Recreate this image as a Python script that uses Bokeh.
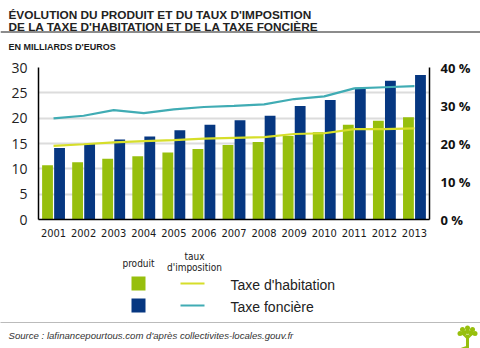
from bokeh.plotting import figure
from bokeh.models import (ColumnDataSource, FactorRange, Range1d, LinearAxis, FixedTicker)
from bokeh.layouts import column, row
from bokeh.transform import dodge
from bokeh.core.properties import value
from bokeh.embed import file_html
from bokeh.resources import INLINE

years = ["2001", "2002", "2003", "2004", "2005", "2006", "2007",
         "2008", "2009", "2010", "2011", "2012", "2013"]
produit_habitation = [10.7, 11.3, 12.0, 12.5, 13.2, 13.9, 14.7, 15.3, 16.5, 17.2, 18.7, 19.5, 20.2]
produit_fonciere = [14.1, 14.9, 15.8, 16.4, 17.6, 18.7, 19.6, 20.5, 22.4, 23.6, 26.0, 27.4, 28.5]
taux_habitation = [19.4, 19.8, 20.3, 20.6, 20.9, 21.3, 21.5, 21.7, 22.5, 22.7, 23.8, 23.8, 24.0]
taux_fonciere = [26.6, 27.3, 28.8, 28.0, 29.0, 29.6, 29.9, 30.3, 31.7, 32.4, 34.5, 34.8, 35.1]
left_ticks = [0, 5, 10, 15, 20, 25, 30]
right_ticks = [0, 10, 20, 30, 40]

GREEN = "#97bf0d"
NAVY = "#063781"
YELLOW = "#d6de2a"
TEAL = "#40acb4"
COND = "'DejaVu Sans Condensed', 'Liberation Sans Narrow', 'Roboto', sans-serif"

def blank(h, y0):
    f = figure(width=480, height=h, x_range=Range1d(0, 480), y_range=Range1d(y0 + h, y0),
               output_backend="svg", toolbar_location=None,
               min_border=0, min_border_left=0, min_border_right=0,
               min_border_top=0, min_border_bottom=0)
    f.axis.visible = False
    f.grid.visible = False
    f.outline_line_color = None
    return f

def htext(f, x, y, t, size, style="normal", font="Liberation Sans", color="#1a1a1a",
          align="left", baseline="alphabetic"):
    f.text(x=[x], y=[y], text=[t], text_font=value(font), text_font_size=size,
           text_font_style=style, text_color=color, text_align=align,
           text_baseline=baseline)

# ---------- header ----------
hd = blank(55, 0)
htext(hd, 8, 14.5, "ÉVOLUTION DU PRODUIT ET DU TAUX D'IMPOSITION", "11.8px", style="bold",
      color="#222222")
htext(hd, 8, 26, "DE LA TAXE D'HABITATION ET DE LA TAXE FONCIÈRE", "11.8px", style="bold",
      color="#222222")
hd.segment(x0=[0], y0=[31.5], x1=[480], y1=[31.5], line_color="#666666", line_width=1.5)
htext(hd, 8, 46, "EN MILLIARDS D'EUROS", "9px", style="bold")

# ---------- main chart ----------
src = ColumnDataSource(dict(year=years, th=produit_habitation, tf=produit_fonciere,
                            tth=taux_habitation, ttf=taux_fonciere))

p = figure(width=480, height=195, x_range=FactorRange(*years, range_padding=0),
           y_range=Range1d(0, 30), output_backend="svg", toolbar_location=None,
           min_border_left=38, min_border_right=51, min_border_top=12,
           min_border_bottom=31)
p.outline_line_color = None
p.extra_y_ranges = {"pct": Range1d(0, 40)}

p.vbar(x=dodge("year", -0.2, range=p.x_range), top="th", width=0.36, source=src,
       fill_color=GREEN, line_color=None)
p.vbar(x=dodge("year", 0.2, range=p.x_range), top="tf", width=0.36, source=src,
       fill_color=NAVY, line_color=None)
p.line(x="year", y="tth", source=src, y_range_name="pct", line_color=YELLOW, line_width=2.2)
p.line(x="year", y="ttf", source=src, y_range_name="pct", line_color=TEAL, line_width=2.2)

p.xgrid.grid_line_color = None
p.ygrid.grid_line_color = "#dcdcdc"
p.ygrid.grid_line_width = 2
p.yaxis.ticker = FixedTicker(ticks=left_ticks)
p.ygrid.ticker = FixedTicker(ticks=left_ticks)

for ax in [p.xaxis[0], p.yaxis[0]]:
    ax.axis_line_color = "black"
    ax.axis_line_width = 1.5
    ax.major_tick_line_color = None
    ax.minor_tick_line_color = None

p.xaxis.major_label_text_font = COND
p.xaxis.major_label_text_font_size = "11px"
p.xaxis.major_label_text_color = "#1a1a1a"
p.xaxis.major_label_standoff = 3

p.yaxis.major_label_text_font = "Open Sans"
p.yaxis.major_label_text_font_size = "14px"
p.yaxis.major_label_text_color = "#222222"
p.yaxis.major_label_standoff = 5

rax = LinearAxis(y_range_name="pct", ticker=FixedTicker(ticks=right_ticks),
                 major_label_overrides={t: f"{t} %" for t in right_ticks})
rax.axis_line_color = "black"
rax.axis_line_width = 1.5
rax.major_tick_line_color = None
rax.minor_tick_line_color = None
rax.major_label_text_font = "Open Sans"
rax.major_label_text_font_style = "bold"
rax.major_label_text_font_size = "13px"
rax.major_label_text_color = "#111111"
rax.major_label_standoff = 5
p.add_layout(rax, "right")

# ---------- footer (legend + source) ----------
ft = blank(98, 250)
htext(ft, 138, 263, "produit", "10px", font=COND, align="center")
htext(ft, 194, 256, "taux", "10px", font=COND, align="center")
htext(ft, 194, 267, "d'imposition", "10px", font=COND, align="center")
ft.quad(left=[131, 131], right=[145, 145], top=[276, 298], bottom=[290, 312],
        fill_color=[GREEN, NAVY], line_color=None)
ft.segment(x0=[180, 180], x1=[204, 204], y0=[283, 305], y1=[283, 305],
           line_color=[YELLOW, TEAL], line_width=2)
htext(ft, 230, 284, "Taxe d'habitation", "14px", baseline="middle", color="#222222")
htext(ft, 230, 306, "Taxe foncière", "14px", baseline="middle", color="#222222")
ft.segment(x0=[0], x1=[480], y0=[322], y1=[322], line_color="#777777",
           line_dash="1 1", line_width=1)
htext(ft, 8, 334.5, "Source : lafinancepourtous.com d'après collectivites-locales.gouv.fr",
      "9.6px", style="italic", color="#333333")
# small tree logo
ft.quad(left=[465.5], right=[468.5], top=[334], bottom=[348], fill_color=GREEN, line_color=None)
ft.segment(x0=[467, 467, 467], y0=[338, 338, 346], x1=[462, 472, 461], y1=[333, 333, 348],
           line_color=GREEN, line_width=1.8)
ft.scatter(x=[462, 467, 472, 463.5, 470.5, 467, 474.5, 459.5], y=[329, 327.5, 329, 332.5, 332.5, 331, 333, 333],
           size=5, marker="circle", fill_color=GREEN, line_color=None)

layout = column(row(hd), row(p), row(ft), spacing=0)
open("out.html", "w").write(file_html(layout, INLINE))
